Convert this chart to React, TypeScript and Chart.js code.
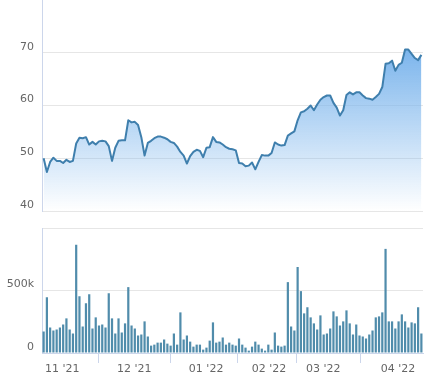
import React, { useEffect, useRef } from 'react';
import { Chart, registerables } from 'chart.js';

Chart.register(...registerables);

// Closing price, one point per trading day
const price: number[] = [
  50.0, 47.4, 49.3, 50.1, 49.5, 49.5, 49.1, 49.7, 49.3, 49.5,
  52.8, 53.9, 53.8, 54.0, 52.6, 53.1, 52.6, 53.2, 53.3, 53.2,
  52.3, 49.5, 52.0, 53.3, 53.4, 53.4, 57.2, 56.8, 56.9, 56.3,
  54.0, 50.5, 52.9, 53.3, 53.8, 54.1, 54.1, 53.9, 53.6, 53.1,
  52.9, 52.2, 51.2, 50.5, 49.0, 50.4, 51.2, 51.6, 51.4, 50.2,
  52.0, 52.1, 54.0, 53.1, 53.0, 52.6, 52.1, 51.8, 51.7, 51.5,
  49.1, 49.0, 48.5, 48.6, 49.2, 47.9, 49.3, 50.6, 50.5, 50.5,
  51.0, 53.0, 52.6, 52.4, 52.5, 54.3, 54.7, 55.1, 57.2, 58.7,
  58.9, 59.4, 60.0, 59.1, 60.2, 61.1, 61.6, 61.9, 61.9, 60.5,
  59.6, 58.1, 59.1, 62.0, 62.5, 62.1, 62.5, 62.5, 61.9, 61.4,
  61.3, 61.1, 61.6, 62.2, 63.5, 67.9, 68.0, 68.5, 66.6, 67.7,
  68.1, 70.6, 70.6, 69.8, 69.0, 68.6, 69.6,
];

// Volume in thousands, one bar per trading day
const volume: number[] = [
  172, 446, 204, 180, 188, 204, 228, 277, 188, 156,
  866, 454, 212, 398, 470, 196, 285, 220, 228, 204,
  478, 277, 156, 277, 164, 237, 527, 220, 196,
  140, 148, 253, 132, 59, 67, 83, 83, 108, 75,
  59, 156, 67, 325, 108, 140, 91, 51, 67, 67,
  27, 43, 99, 245, 83, 91, 124, 67, 83,
  67, 59, 116, 67, 43, 19, 51, 91, 67, 35,
  19, 67, 27, 164, 59, 51, 59, 567, 212, 180,
  688, 495, 317, 366, 285, 237, 188, 301, 148,
  156, 196, 333, 293, 220, 253, 341, 237, 148, 228,
  140, 132, 116, 148, 180, 285, 293, 325, 833, 253,
  253, 196, 253, 309, 253, 204, 245, 237, 366, 156,
];

// Month ticks (position in trading-day index) and their labels
const monthTickIndex: number[] = [5.7, 27.8, 49.9, 69.2, 85.9, 108.8];
const monthLabels: string[] = ["11 '21", "12 '21", "01 '22", "02 '22", "03 '22", "04 '22"];

const priceMin = 40;
const priceMax = 80;
const priceStep = 10;
const volumeMax = 1000;
const volumeStep = 500;

const FONT = { family: 'DejaVu Sans', size: 11 };
const LABEL = '#666666';
const GRID = '#e6e6e6';
const AXIS = '#ccd6eb';

function fitY(axis: any) {
  axis.width = 42;
  axis.paddingTop = 0;
  axis.paddingBottom = 0;
}

export default function App() {
  const topRef = useRef<HTMLCanvasElement>(null);
  const botRef = useRef<HTMLCanvasElement>(null);

  useEffect(() => {
    const n = price.length;
    const top = new Chart(topRef.current!, {
      type: 'line',
      data: {
        datasets: [
          {
            data: price.map((v, i) => ({ x: i, y: v })),
            borderColor: '#3f7fad',
            borderWidth: 2,
            pointRadius: 0,
            tension: 0,
            borderJoinStyle: 'round',
            fill: 'start',
            backgroundColor: (ctx: any) => {
              const chart = ctx.chart;
              const area = chart.chartArea;
              if (!area) return 'rgba(124,181,236,0.4)';
              const yTop = chart.scales.y.getPixelForValue(Math.max(...price));
              const g = chart.ctx.createLinearGradient(0, yTop, 0, area.bottom);
              g.addColorStop(0, 'rgba(124,181,236,1)');
              g.addColorStop(1, 'rgba(124,181,236,0)');
              return g;
            },
          } as any,
        ],
      },
      options: {
        animation: false,
        responsive: false,
        events: [],
        layout: { padding: { left: 0, right: 3, top: 0, bottom: 3 } },
        plugins: { legend: { display: false }, tooltip: { enabled: false } },
        scales: {
          x: { type: 'linear', min: -0.5, max: n - 0.5, display: false },
          y: {
            min: priceMin,
            max: priceMax,
            ticks: {
              stepSize: priceStep,
              color: LABEL,
              font: FONT,
              padding: 8,
              labelOffset: -6,
              callback: (v: any) => (v === priceMax ? '' : String(v)),
            },
            grid: {
              drawTicks: false,
              color: (c: any) => (c.tick && c.tick.value === priceMax ? 'rgba(0,0,0,0)' : GRID),
            },
            border: { display: true, color: AXIS },
            afterFit: fitY,
          } as any,
        },
      },
    });

    const bot = new Chart(botRef.current!, {
      type: 'bar',
      data: {
        datasets: [
          {
            data: volume.map((v, i) => ({ x: i, y: v })),
            backgroundColor: '#508cab',
            borderWidth: 0,
            barPercentage: 0.68,
            categoryPercentage: 1,
          } as any,
        ],
      },
      options: {
        animation: false,
        responsive: false,
        events: [],
        layout: { padding: { left: 0, right: 3, top: 12, bottom: 0 } },
        plugins: { legend: { display: false }, tooltip: { enabled: false } },
        scales: {
          x: {
            type: 'linear',
            min: -0.5,
            max: n - 0.5,
            offset: false,
            afterBuildTicks: (axis: any) => {
              axis.ticks = monthTickIndex.map((v) => ({ value: v }));
            },
            ticks: {
              autoSkip: false,
              maxRotation: 0,
              color: LABEL,
              font: FONT,
              padding: 0,
              callback: (_v: any, idx: number) => monthLabels[idx],
            },
            grid: { drawOnChartArea: false, drawTicks: true, tickLength: 10, tickColor: AXIS },
            border: { display: true, color: AXIS },
            afterFit: (a: any) => {
              a.height = 22;
              a.paddingLeft = 0;
              a.paddingRight = 0;
            },
          } as any,
          y: {
            min: 0,
            max: volumeMax,
            ticks: {
              stepSize: volumeStep,
              color: LABEL,
              font: FONT,
              padding: 8,
              labelOffset: -6,
              callback: (v: any) => (v === 0 ? '0' : v === volumeMax ? '' : v + 'k'),
            },
            grid: { drawTicks: false, color: GRID },
            border: { display: true, color: AXIS },
            afterFit: fitY,
          } as any,
        },
      },
    });

    return () => {
      top.destroy();
      bot.destroy();
    };
  }, []);

  return (
    <div style={{ position: 'absolute', left: 0, top: 0, width: 426, height: 375, background: '#ffffff' }}>
      <canvas ref={topRef} width={426} height={214} style={{ position: 'absolute', left: 0, top: 0 }} />
      <canvas ref={botRef} width={426} height={159} style={{ position: 'absolute', left: 0, top: 216 }} />
    </div>
  );
}
